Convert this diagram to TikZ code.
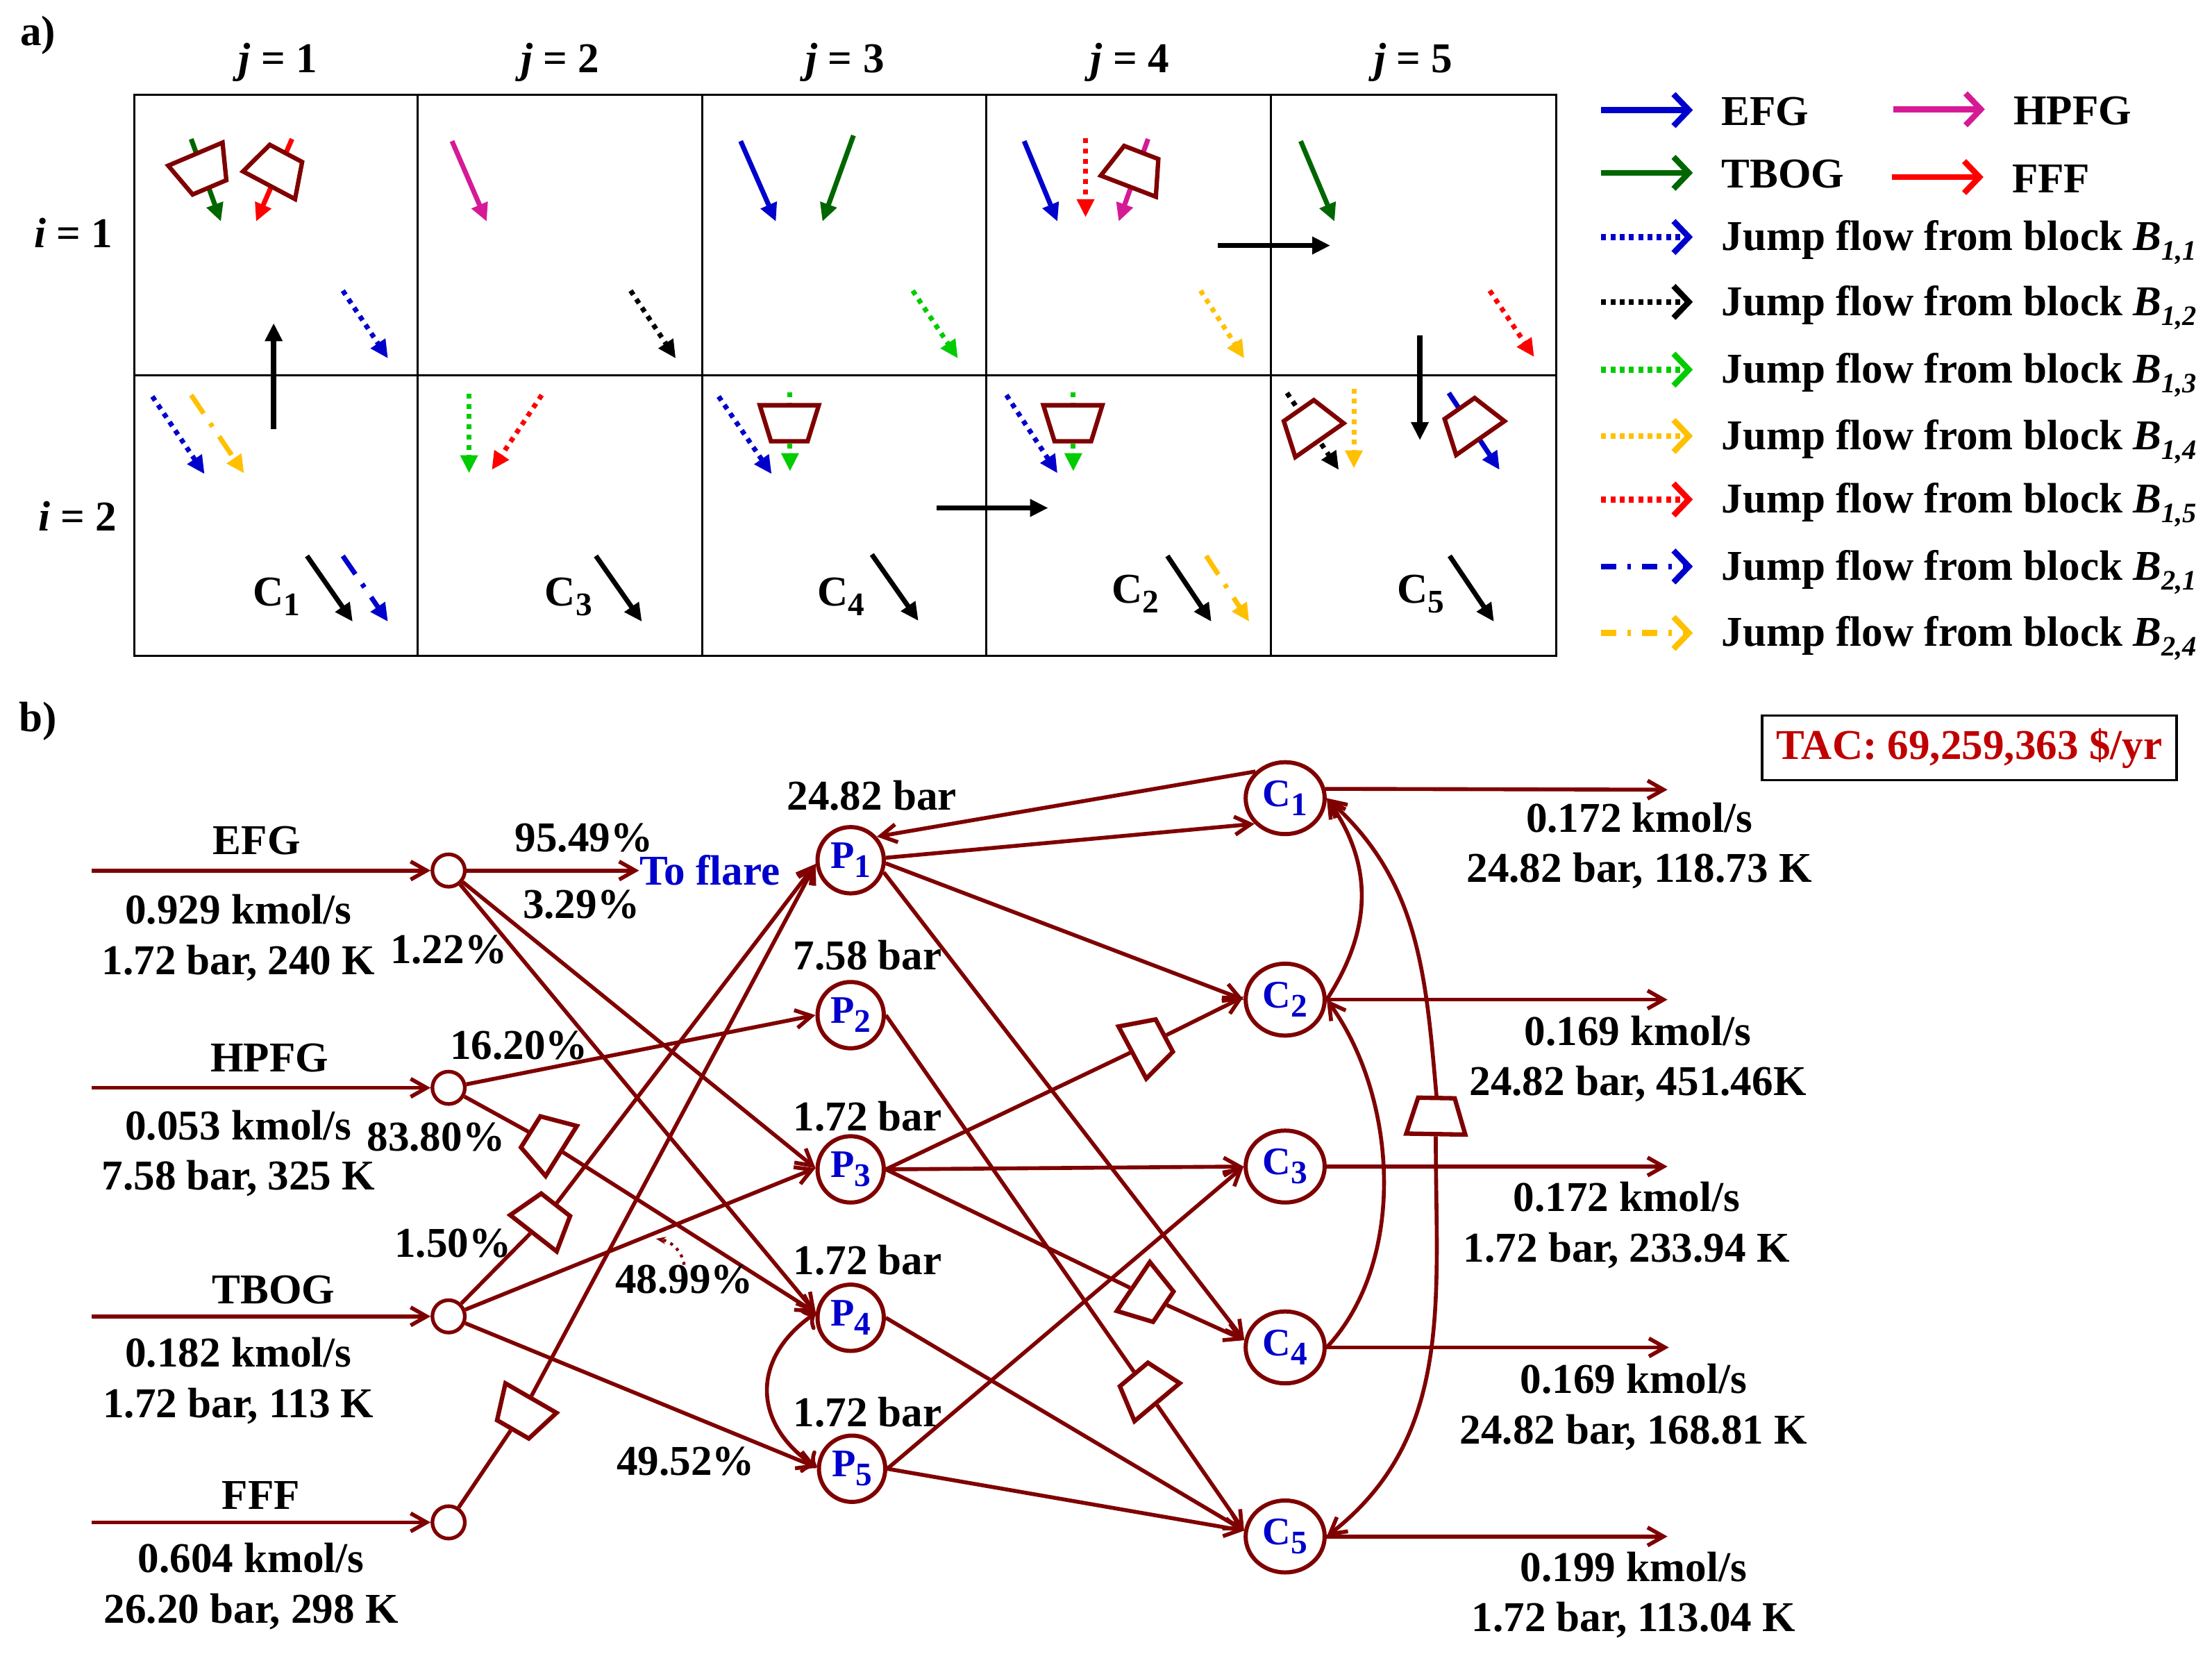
\documentclass[tikz,border=0pt]{standalone}
\usepackage{fontspec}
\usepackage{xcolor}
\usepackage{tikz}
\usetikzlibrary{arrows.meta,positioning,calc,shapes.geometric}
\setmainfont{Liberation Serif}
\definecolor{flowred}{RGB}{127,0,0}
\definecolor{efgblue}{RGB}{0,0,204}
\definecolor{tbgreen}{RGB}{0,102,0}
\definecolor{hpmag}{RGB}{214,26,150}
\definecolor{jgreen}{RGB}{0,204,0}
\definecolor{jorange}{RGB}{255,192,0}
\definecolor{tacred}{RGB}{192,0,0}
\newcommand{\lowsub}[1]{\raisebox{-0.5ex}{\fontsize{13.5}{13.5}\selectfont #1}}
\newcommand{\jsub}[2]{\raisebox{-0.5ex}{\fontsize{11.5}{11.5}\selectfont\itshape #1,#2}}

\begin{document}
\begin{tikzpicture}[x=0.02032cm, y=-0.02032cm,
  every node/.style={font=\fontsize{17.4}{20.7}\selectfont\bfseries, align=center, inner sep=0pt},
  gridline/.style={line width=0.85pt},
  solid arr/.style={line width=2pt, -{Triangle[length=2.6mm,width=2.4mm]}},
  dots arr/.style={solid arr, dash pattern=on 2pt off 2.2pt},
  dashdot arr/.style={solid arr, dash pattern=on 3.2mm off 1.7mm on 0.6mm off 1.7mm},
  moveblk/.style={line width=2.2pt, -{Triangle[length=2.6mm,width=2.4mm]}},
  leg/.style={line width=2.4pt, -{Straight Barb[length=2.2mm,width=4.6mm]}},
  legdots/.style={leg, dash pattern=on 2pt off 1.8pt},
  legdash/.style={leg, dash pattern=on 2.2mm off 1.6mm on 0.5mm off 1.6mm},
  valve/.style={draw=flowred, fill=white, line width=1.8pt, trapezium, trapezium stretches=true,
                trapezium left angle=73, trapezium right angle=73, inner sep=2pt,
                minimum width=0.85cm, minimum height=0.52cm},
  flow/.style={draw=flowred, line width=1.6pt, -{Straight Barb[length=2.3mm,width=2.6mm]}},
  link/.style={draw=flowred, line width=1.6pt},
  split/.style={circle, draw=flowred, fill=white, line width=1.5pt, minimum size=0.467cm},
  pnode/.style={circle, draw=flowred, fill=white, line width=1.7pt, minimum size=0.955cm,
                text=efgblue, font=\fontsize{16}{16}\selectfont\bfseries},
  cnode/.style={ellipse, draw=flowred, fill=white, line width=1.7pt, minimum width=1.138cm,
                minimum height=1.036cm, text=efgblue, font=\fontsize{16}{16}\selectfont\bfseries}]
\useasboundingbox (0,0) rectangle (1568,1172);

\node (pa) at (27,25) {a)};
\node (pb) at (27,511) {b)};
\foreach \x/\j in {197/1,397/2,599/3,801/4,1002/5} \node (jh\j) at (\x,44) {\textit{j} = \j};
\node (ih1) at (52,165) {\textit{i} = 1};
\node (ih2) at (55,366) {\textit{i} = 2};
\foreach \x in {296,498,699,901} \draw[gridline] (\x,67) -- (\x,465);
\draw[gridline] (95,266) -- (1103,266);
\draw[gridline] (95,67) rectangle (1103,465);

\foreach \xa/\ya/\xb/\yb/\k/\c in {
  135.5/98.5/156.6/157/solid arr/tbgreen, 207/98.5/181.5/157/solid arr/red,
  243/206/275/254/dots arr/efgblue, 320.4/100/345/157/solid arr/hpmag,
  447/206/479/254/dots arr/black, 525/100/550/157/solid arr/efgblue,
  605/96/583/157/solid arr/tbgreen, 647/206/679/254/dots arr/jgreen,
  726/100/749.6/157/solid arr/efgblue, 769.5/98/769.5/154/dots arr/red,
  813.8/98.5/793/157/solid arr/hpmag, 851/206/882/254/dots arr/jorange,
  922/100/946/157/solid arr/tbgreen, 1056/206/1087.5/253/dots arr/red,
  108/281/145/336/dots arr/efgblue, 135.5/280/173/335.5/dashdot arr/jorange,
  217.6/394/250/440.6/solid arr/black, 243/394/275/440.6/dashdot arr/efgblue,
  332.5/279/332.5/335.4/dots arr/jgreen, 384/280/348.6/333/dots arr/red,
  422.4/394/455/440.6/solid arr/black, 509.4/281/547/336/dots arr/efgblue,
  560/278/560/334/dots arr/jgreen, 618/393/651/440/solid arr/black,
  713.4/280/749.6/335.4/dots arr/efgblue, 760.8/278/760.8/334/dots arr/jgreen,
  827.5/394/858.7/440.6/solid arr/black, 855/394/885.5/440.6/dashdot arr/jorange,
  912.3/278.5/949/333/dots arr/black, 959.7/275.4/959.7/332/dots arr/jorange,
  1027/278.5/1063/333/solid arr/efgblue, 1027.6/394/1059/440.6/solid arr/black}
  \draw[\k,\c] (\xa,\ya) -- (\xb,\yb);
\foreach \xa/\ya/\xb/\yb in {194/304/194/229, 863/174/943/174, 1006.5/237.5/1006.5/312, 664/360/743/360}
  \draw[moveblk] (\xa,\ya) -- (\xb,\yb);

\node[valve, rotate=-157] (cv1) at (143.5,121) {};
\node[valve, rotate=-28] (cv2) at (196.7,120) {};
\node[valve, rotate=-21] (cv3) at (804.4,120) {};
\node[valve, rotate=180] (cv4) at (559.5,300) {};
\node[valve, rotate=180] (cv5) at (760.5,300) {};
\node[valve, rotate=35] (cv6) at (928,301.5) {};
\node[valve, rotate=35] (cv7) at (1042,300) {};

\node (ca1) at (196,423) {C\lowsub{1}};
\node (ca3) at (403,423) {C\lowsub{3}};
\node (ca4) at (596,423) {C\lowsub{4}};
\node (ca2) at (805,421) {C\lowsub{2}};
\node (ca5) at (1007,421) {C\lowsub{5}};

\foreach \x/\y/\c/\t in {1135/78/efgblue/EFG, 1135/122.5/tbgreen/TBOG, 1342/77.5/hpmag/HPFG, 1341/125.5/red/FFF} {
  \draw[leg,\c] (\x,\y) -- ++(65,0);
  \node[anchor=west, yshift=-0.02cm] (lg\t) at ($(\x,\y)+(85,0)$) {\t};
}
\foreach \y/\c/\k/\a/\b in {168/efgblue/legdots/1/1, 214/black/legdots/1/2, 262/jgreen/legdots/1/3,
  309/jorange/legdots/1/4, 354/red/legdots/1/5, 401.5/efgblue/legdash/2/1, 448.6/jorange/legdash/2/4} {
  \draw[\k,\c] (1135,\y) -- (1200,\y);
  \node[anchor=west, yshift=-0.08cm] (jf\a\b) at (1220,\y) {Jump flow from block \textit{B}\jsub{\a}{\b}};
}

\node[draw=black, line width=1pt, minimum width=5.97cm, text height=0.628cm, text depth=0.302cm, text=tacred] (tac) at (1396,530) {TAC: 69,259,363 \$/yr};

\node[split] (s1) at (318,617) {};
\node[split] (s2) at (318,771) {};
\node[split] (s3) at (318,933) {};
\node[split] (s4) at (318,1079) {};
\coordinate (in1) at (65,617);
\coordinate (in2) at (65,771);
\coordinate (in3) at (65,933);
\coordinate (in4) at (65,1079);
\foreach \i in {1,2,3,4} \draw[flow] (in\i) -- (s\i);

\node[pnode] (p1) at (603,609.7) {P\lowsub{1}};
\node[pnode] (p2) at (603,719.5) {P\lowsub{2}};
\node[pnode] (p3) at (603,828.8) {P\lowsub{3}};
\node[pnode] (p4) at (603,934) {P\lowsub{4}};
\node[pnode] (p5) at (604,1041) {P\lowsub{5}};
\node[cnode] (c1) at (911,565.7) {C\lowsub{1}};
\node[cnode] (c2) at (911,708.5) {C\lowsub{2}};
\node[cnode] (c3) at (911,826.8) {C\lowsub{3}};
\node[cnode] (c4) at (911,955) {C\lowsub{4}};
\node[cnode] (c5) at (911,1089) {C\lowsub{5}};
\node[text=efgblue, anchor=west] (flare) at (453,617) {To flare};

\node[valve, rotate=58] (v1) at (387,809) {};
\node[valve, rotate=-38] (v2) at (386,864) {};
\node[valve, rotate=150] (v3) at (370,1002) {};
\node[valve, rotate=-62] (v4) at (814,740) {};
\node[valve, rotate=-124] (v5) at (814,919) {};
\node[valve, rotate=40] (v6) at (812,984) {};
\node[valve, rotate=-1] (v7) at (1018,791) {};

\draw[flow] (s1) -- (flare);
\draw[flow] (s1) -- (p3.178);
\draw[flow] (s1) -- (p4.172);
\draw[flow] (s2) -- (p2.180);
\draw[link] (s2) -- (v1);
\draw[flow] (v1) -- (p4.172);
\draw[link] (s3) -- (v2);
\draw[flow] (v2) -- (p1.186);
\draw[flow] (s3) -- (p3.178);
\draw[flow] (s3) -- (p5.178);
\draw[link] (s4) -- (v3);
\draw[flow] (v3) -- (p1.186);
\draw[flow,<->] (p4.172) to[out=215,in=146,looseness=1.3] (p5.178);

\draw[flow] (c1.138) -- (p1.42);
\draw[flow] (p1.4) -- (c1.220);
\draw[flow] (p1.-5) -- (c2.180);
\draw[flow] (p1.-20) -- (c4.170);
\draw[link] (p2.east) -- (v6);
\draw[flow] (v6) -- (c5.172);
\draw[link] (p3.east) -- (v4);
\draw[flow] (v4) -- (c2.176);
\draw[flow] (p3.east) -- (c3.180);
\draw[link] (p3.east) -- (v5);
\draw[flow] (v5) -- (c4.170);
\draw[flow] (p4.east) -- (c5.172);
\draw[flow] (p5.east) -- (c3.180);
\draw[flow] (p5.east) -- (c5.172);

\coordinate (o1) at (1182,559.7);
\coordinate (o2) at (1182,708.5);
\coordinate (o3) at (1182,826.8);
\coordinate (o4) at (1183,955);
\coordinate (o5) at (1182,1089);
\draw[flow] (c1.13) -- (o1);
\foreach \i in {2,3,4,5} \draw[flow] (c\i.east) -- (o\i);
\draw[flow] (c2.east) to[out=57,in=-55,looseness=1.05] (c1.east);
\draw[flow] (c4.east) to[out=47,in=-54,looseness=0.88] (c2.east);
\draw[flow] (v7.north) to[out=95,in=-42] (c1.east);
\draw[flow] (v7.south) to[out=-90,in=38] (c5.east);

\node (ef) at (182,596) {EFG};
\node (efd) at (169,664.5) {0.929 kmol/s\\1.72 bar, 240 K};
\node (hp) at (191,750) {HPFG};
\node (hpd) at (169,817.5) {0.053 kmol/s\\7.58 bar, 325 K};
\node (tb) at (194,914) {TBOG};
\node (tbd) at (169,978.5) {0.182 kmol/s\\1.72 bar, 113 K};
\node (ff) at (185,1060) {FFF};
\node (ffd) at (178,1124.5) {0.604 kmol/s\\26.20 bar, 298 K};

\node (pc1) at (414,594) {95.49\%};
\node (pc2) at (412,641) {3.29\%};
\node (pc3) at (318,673) {1.22\%};
\node (pc4) at (368,741) {16.20\%};
\node (pc5) at (309,806) {83.80\%};
\node (pc6) at (321,881) {1.50\%};
\node (pc7) at (485,907) {48.99\%};
\node (pc8) at (486,1036) {49.52\%};
\coordinate (tip) at (465,878);
\draw[flowred, line width=1.2pt, dotted, -{Stealth[length=1.4mm]}] (pc7.north) to[out=100,in=-10] (tip);

\node (bar1) at (618,564) {24.82 bar};
\node (bar2) at (615,677) {7.58 bar};
\node (bar3) at (615,791) {1.72 bar};
\node (bar4) at (615,893) {1.72 bar};
\node (bar5) at (615,1001) {1.72 bar};

\node (ou1) at (1162,599.5) {0.172 kmol/s\\24.82 bar, 118.73 K};
\node (ou2) at (1161,750.5) {0.169 kmol/s\\24.82 bar, 451.46K};
\node (ou3) at (1153,868.5) {0.172 kmol/s\\1.72 bar, 233.94 K};
\node (ou4) at (1158,997.5) {0.169 kmol/s\\24.82 bar, 168.81 K};
\node (ou5) at (1158,1130.5) {0.199 kmol/s\\1.72 bar, 113.04 K};
\end{tikzpicture}
\end{document}
